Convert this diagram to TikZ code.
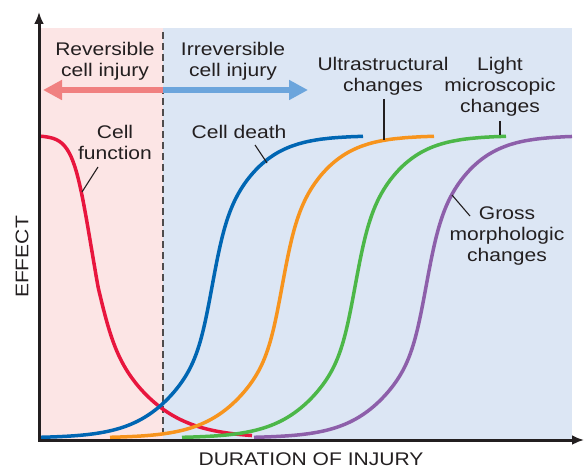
\documentclass[tikz,border=0pt]{standalone}
\usepackage{fontspec}
\setmainfont{Liberation Sans}[FakeStretch=1.15]
\usetikzlibrary{arrows.meta}

\definecolor{revpink}{RGB}{252,229,229}
\definecolor{irrblue}{RGB}{220,230,244}
\definecolor{funcred}{RGB}{232,22,62}
\definecolor{deathblue}{RGB}{0,102,179}
\definecolor{ultraorange}{RGB}{247,148,29}
\definecolor{lmgreen}{RGB}{76,183,72}
\definecolor{grosspurple}{RGB}{141,95,170}
\definecolor{revarrow}{RGB}{240,128,128}
\definecolor{irrarrow}{RGB}{108,165,220}
\definecolor{inktext}{RGB}{35,31,32}

\begin{document}
\begin{tikzpicture}[x=1pt,y=-1pt,
    declare function={
        risefn(\v)=1/(1+exp(-\v/(1.4+((\v<0)?1.5:1.2)*\v*\v/(\v*\v+12.25))));
        fallfn(\v)=1/(1+exp(\v/(((\v<0)?(1.3-0.4*\v*\v/(\v*\v+4)):(1.8+1.5*\v*\v/(\v*\v+16))))));
    },
    lbl/.style={align=center, inner sep=0pt, text=inktext, font=\fontsize{18.3}{21}\selectfont},
    curve/.style={line width=3.5pt, samples=110, smooth},
    leader/.style={line width=1.1pt, inktext},
    axis/.style={line width=3pt, inktext}]
    \useasboundingbox (0,0) rectangle (585,470);

    % Shaded phases (reversible / irreversible)
    \fill[revpink] (39,28) rectangle (163,440); % Reversible phase
    \fill[irrblue] (163,28) rectangle (572,440); % Irreversible phase

    % Points of the picture
    \coordinate (origin) at (39,440); % Corner of the axes
    \coordinate (ytop) at (39,12); % Tip of the effect axis
    \coordinate (xend) at (584,440); % Tip of the duration axis
    \coordinate (split) at (163,90); % Where the two phase arrows meet
    \coordinate (revtip) at (43,90); % Tip of the reversible arrow
    \coordinate (irrtip) at (308,90); % Tip of the irreversible arrow
    \coordinate (dashtop) at (163,32); % Top of the boundary line
    \coordinate (dashbot) at (163,440); % Bottom of the boundary line

    % Boundary between the phases
    \draw[inktext!80, line width=1.2pt, dash pattern=on 7pt off 4pt] (dashtop) -- (dashbot);

    % Phase arrows
    \draw[revarrow, line width=6.5pt, -{Triangle[length=19pt,width=19pt]}] (split) -- (revtip);
    \draw[irrarrow, line width=6.5pt, -{Triangle[length=19pt,width=19pt]}] (split) -- (irrtip);

    % Curves (effect goes from 438 at the bottom to 135.5 at the top)
    \begin{scope}
        \clip (39,0) rectangle (572,445);
        \draw[curve, funcred] plot[domain=40:252] (\x, {438-302.5*fallfn((\x-98)/10)}); % Cell function
        \draw[curve, deathblue] plot[domain=40:363] (\x, {438-302.5*risefn((\x-212)/10)}); % Cell death
        \draw[curve, ultraorange] plot[domain=110:434] (\x, {438-302.5*risefn((\x-282)/10)}); % Ultrastructural changes
        \draw[curve, lmgreen] plot[domain=182:506] (\x, {438-302.5*risefn((\x-355)/10)}); % Light microscopic changes
        \draw[curve, grosspurple] plot[domain=254:572] (\x, {438-302.5*risefn((\x-426)/10)}); % Gross morphologic changes
    \end{scope}

    % Axes
    \draw[axis, {Latex[length=12pt,width=10pt]}-{Latex[length=12pt,width=10pt]}] (ytop) -- (origin) -- (xend);
    \node[lbl, rotate=90] (effect) at (22,257) {EFFECT};
    \node[lbl] (duration) at (311,459) {DURATION OF INJURY};

    % Phase labels
    \node[lbl, anchor=north] (revlbl) at (105,42) {Reversible\\cell injury};
    \node[lbl, anchor=north] (irrlbl) at (233,42) {Irreversible\\cell injury};

    % Curve labels
    \node[lbl, anchor=north] (funclbl) at (115,125) {Cell\\function};
    \node[lbl, anchor=north] (deathlbl) at (239,125) {Cell death};
    \node[lbl, anchor=north] (ultralbl) at (383,57) {Ultrastructural\\changes};
    \node[lbl, anchor=north] (lightlbl) at (500,57) {Light\\microscopic\\changes};
    \node[lbl, anchor=north] (grosslbl) at (507,207) {Gross\\morphologic\\changes};

    % Leader lines from labels to curves
    \coordinate (funcfrom) at (98,167); \coordinate (funcpt) at (82,192);
    \coordinate (deathfrom) at (255,145); \coordinate (deathpt) at (267,163);
    \coordinate (ultrafrom) at (384,99); \coordinate (ultrapt) at (384,140);
    \coordinate (lightfrom) at (500,121); \coordinate (lightpt) at (500,135);
    \coordinate (grossfrom) at (470,216); \coordinate (grosspt) at (452,195);
    \draw[leader] (funcfrom) -- (funcpt); % Cell function
    \draw[leader] (deathfrom) -- (deathpt); % Cell death
    \draw[leader] (ultrafrom) -- (ultrapt); % Ultrastructural
    \draw[leader] (lightfrom) -- (lightpt); % Light microscopic
    \draw[leader] (grossfrom) -- (grosspt); % Gross morphologic
\end{tikzpicture}
\end{document}
